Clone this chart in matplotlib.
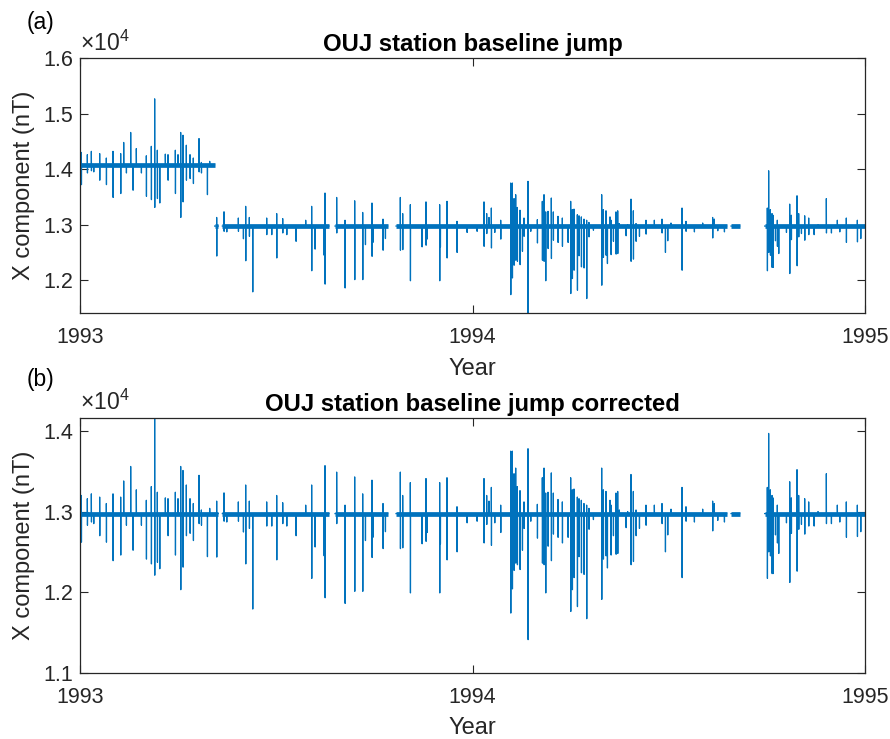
import matplotlib
matplotlib.use("Agg")
import matplotlib.pyplot as plt
import numpy as np
from matplotlib.ticker import FuncFormatter

plt.rcParams["font.family"] = ["Liberation Sans", "DejaVu Sans"]
plt.rcParams["mathtext.fontset"] = "custom"
plt.rcParams["mathtext.rm"] = "Liberation Sans"

LINE_COLOR = "#0072BD"
AXIS_COLOR = "#262626"

# corrected baseline level and the jump found in the raw record
baseline_nt = 12975.0
jump_offset_nt = 1100.0
jump_year = 1993.3427

# continuous data pieces (gaps in between)
segment_start = [1993.0000, 1993.3430, 1993.3626, 1993.6497, 1993.8051, 1994.6586, 1994.7443]
segment_end = [1993.3427, 1993.3524, 1993.6344, 1993.7838, 1994.6475, 1994.6806, 1995.0000]

# disturbances: time, max and min (None = stays at baseline)
spike_year = [
    1993.0034, 1993.0187, 1993.0289, 1993.0348, 1993.0501, 1993.0671, 1993.0841, 1993.1036,
    1993.1113, 1993.1180, 1993.1291, 1993.1350, 1993.1435, 1993.1562, 1993.1690, 1993.1817,
    1993.1902, 1993.1970, 1993.2030, 1993.2174, 1993.2242, 1993.2429, 1993.2497, 1993.2565,
    1993.2624, 1993.2709, 1993.2803, 1993.2887, 1993.3032, 1993.3092, 1993.3244, 1993.3304,
    1993.3482,
    1993.3669, 1993.3737, 1993.4034, 1993.4161, 1993.4221, 1993.4314, 1993.4399, 1993.4756,
    1993.4883, 1993.5011, 1993.5164, 1993.5266, 1993.5503, 1993.5750, 1993.5902, 1993.5987,
    1993.6217, 1993.6242,
    1993.6539, 1993.6752, 1993.6998, 1993.7202, 1993.7270, 1993.7439, 1993.7460, 1993.7720,
    1993.7779,
    1993.8161, 1993.8221, 1993.8416, 1993.8713, 1993.8815, 1993.8840, 1993.9163, 1993.9180,
    1993.9350, 1993.9605, 1993.9860, 1994.0115, 1994.0293, 1994.0361, 1994.0420, 1994.0480,
    1994.0565, 1994.0718, 1994.0973, 1994.1015, 1994.1058, 1994.1100, 1994.1142, 1994.1210,
    1994.1270, 1994.1312, 1994.1414, 1994.1482, 1994.1652, 1994.1779, 1994.1822, 1994.1864,
    1994.1924, 1994.2008, 1994.2059, 1994.2178, 1994.2289, 1994.2433, 1994.2501, 1994.2543,
    1994.2586, 1994.2671, 1994.2713, 1994.2773, 1994.2840, 1994.2908, 1994.2967, 1994.3078,
    1994.3291, 1994.3333, 1994.3401, 1994.3435, 1994.3503, 1994.3529, 1994.3588, 1994.3656,
    1994.3699, 1994.3741, 1994.3911, 1994.3953, 1994.4038, 1994.4098, 1994.4166, 1994.4251,
    1994.4420, 1994.4633, 1994.4828, 1994.4913, 1994.4972, 1994.5057, 1994.5338, 1994.5439,
    1994.5651, 1994.5864, 1994.6118, 1994.6161, 1994.6246, 1994.6416,
    1994.7511, 1994.7545, 1994.7588, 1994.7631, 1994.7656, 1994.7716, 1994.7766, 1994.7800,
    1994.7996, 1994.8081, 1994.8123, 1994.8268, 1994.8310, 1994.8378, 1994.8463, 1994.8565,
    1994.8701, 1994.8803, 1994.9015, 1994.9142, 1994.9295, 1994.9355, 1994.9524, 1994.9805,
    1994.9890,
]
spike_high = [
    13200, 13160, 13220, None, 13180, 13100, 13220, 13180,
    13380, None, 13560, None, 13270, None, 13140, 13310,
    14165, 13240, None, 13170, 13160, 13240, 13160, 13560,
    13510, 13330, 13160, 13100, 13450, 13020, None, 13040,
    13130,
    13232, None, 13120, None, 13330, 13130, None, 13120,
    None, 13200, 13110, None, None, 13080, 13330, None,
    None, 13570,
    13490, 13080, 13430, 13220, None, 13390, None, 13100,
    None,
    13490, 13200, 13360, None, 13410, None, 13360, None,
    13420, 13060, None, None, 13410, 13200, 13130, 13300,
    None, 13080, 13750, 13750, 13470, 13540, 13310, 13260,
    None, 13120, 13780, None, 13090, 13420, 13540, 13230,
    13240, 13480, 13230, 13150, 13120, None, 13420, 13270,
    13280, 13180, 13160, 13140, 13100, 13080, 13040, None,
    13540, 13270, 13250, None, 13140, 13080, None, 13230,
    13250, 13020, None, 13000, 13460, 13250, 13020, None,
    13080, 13080, 13100, None, None, 13030, 13300, 13060,
    None, 13030, 13130, 13100, None, None,
    13300, 13970, 13270, 13200, 13170, None, 13080, None,
    None, 13370, 13170, 13520, 13200, None, 13160, 13120,
    None, 13000, 13470, None, 13080, None, 13120, 13080,
    None,
]
spike_low = [
    12620, 12830, 12870, 12850, 12700, 12620, 12390, 12460,
    None, 12830, 12950, 12520, None, 12830, 12410, 12350,
    12210, 12370, 12290, None, 12700, 12460, None, 12030,
    12310, 12700, 12730, 12640, 12850, 12830, 12440, None,
    12435,
    12880, 12870, 12880, 12746, 12350, 12790, 11790, 12820,
    12820, 12400, 12850, 12820, 12700, None, 12170, 12560,
    12450, 11930,
    12850, 11860, 12010, 12010, 12640, 12430, 12680, 12540,
    12750,
    12540, 12550, 11990, 12600, 12630, 12740, 11990, 12600,
    12400, 12500, 12860, 12880, 12610, 12840, None, 12580,
    12860, 12740, 11740, 12040, 12270, 12360, 12340, 12280,
    12520, 12790, 11410, 12880, 12670, 12360, 12340, 11990,
    12570, 12390, 12720, 12680, 12610, 12680, 11760, 12030,
    12180, 11820, 12440, 12240, 12220, 11670, 12780, 12900,
    11910, 12410, 12450, 12300, None, 12460, 12700, 12470,
    12480, None, 12800, None, 12340, 12380, 12700, 12790,
    12830, None, 12850, 12500, 12710, None, 12180, 12880,
    12870, None, 12760, None, 12890, 12870,
    12170, 12500, 12450, 12230, 12230, 12710, 12610, 12480,
    12860, 12120, 12730, 12260, 12780, 12840, 12720, 12820,
    12820, None, 12850, 12850, None, 12870, 12680, 12690,
    12750,
]


def build_series(with_spikes=True):
    step = 0.0003
    years, values = [], []
    for start, end in zip(segment_start, segment_end):
        years.append(start)
        values.append(baseline_nt)
        if with_spikes:
            for t, hi, lo in zip(spike_year, spike_high, spike_low):
                if start < t < end:
                    hi = baseline_nt if hi is None else hi
                    lo = baseline_nt if lo is None else lo
                    years += [t, t, t + step, t + 2 * step]
                    values += [baseline_nt, hi, lo, baseline_nt]
        years.append(end)
        values.append(baseline_nt)
        years.append(np.nan)
        values.append(np.nan)
    return np.array(years), np.array(values, dtype=float)


def add_jump(years, values):
    raw = values.copy()
    raw[years <= jump_year] += jump_offset_nt
    return raw


def style_axes(ax, title, ylim, yticks):
    ax.set_xlim(1993, 1995)
    ax.set_ylim(*ylim)
    ax.set_xticks([1993, 1994, 1995])
    ax.set_xticklabels(["1993", "1994", "1995"])
    ax.set_yticks(yticks)
    ax.yaxis.set_major_formatter(FuncFormatter(lambda v, _: f"{v / 1e4:.1f}"))
    ax.tick_params(direction="in", length=5.5, width=0.8, top=True, right=True,
                   labelsize=15.5, colors=AXIS_COLOR)
    ax.tick_params(axis="x", pad=10)
    ax.tick_params(axis="y", pad=5)
    for spine in ax.spines.values():
        spine.set_color(AXIS_COLOR)
        spine.set_linewidth(0.9)
    ax.set_title(title, fontsize=17.2, fontweight="bold", pad=5)
    ax.set_xlabel("Year", fontsize=17, color=AXIS_COLOR, labelpad=7)
    ax.set_ylabel("X component (nT)", fontsize=17, color=AXIS_COLOR, labelpad=6)
    ax.text(0.0, 1.01, r"$\times10^{4}$", transform=ax.transAxes, fontsize=16.5,
            color=AXIS_COLOR, ha="left", va="bottom")


years, corrected = build_series(True)
raw = add_jump(years, corrected)
band_years, band_corr = build_series(False)
band_raw = add_jump(band_years, band_corr)

fig = plt.figure(figsize=(8.9, 7.39), dpi=100)
ax_a = fig.add_axes([80 / 890, 1 - 313 / 739, 785 / 890, 255 / 739])
ax_b = fig.add_axes([80 / 890, 1 - 672.7 / 739, 785 / 890, 255 / 739])

ax_a.plot(band_years, band_raw, color=LINE_COLOR, lw=3.4, solid_capstyle="butt")
ax_a.plot(years, raw, color=LINE_COLOR, lw=0.9)
style_axes(ax_a, "OUJ station baseline jump", (np.nanmin(raw), 16000),
           [12000, 13000, 14000, 15000, 16000])

ax_b.plot(band_years, band_corr, color=LINE_COLOR, lw=3.4, solid_capstyle="butt")
ax_b.plot(years, corrected, color=LINE_COLOR, lw=0.9)
style_axes(ax_b, "OUJ station baseline jump corrected", (11000, np.nanmax(corrected)),
           [11000, 12000, 13000, 14000])

fig.text(27 / 890, 1 - 23 / 739, "(a)", fontsize=16.5, va="center", ha="left")
fig.text(27 / 890, 1 - 380 / 739, "(b)", fontsize=16.5, va="center", ha="left")

fig.savefig("out.png", dpi=100)
